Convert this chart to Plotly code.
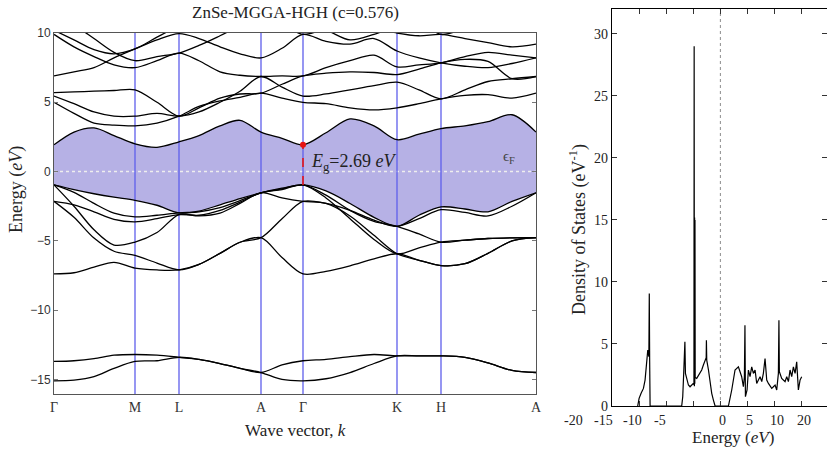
import plotly.graph_objects as go

# ---------------- data: band structure ----------------
SYM_K = [0, 81, 125, 207, 249, 343, 387, 482]
SYM_LABELS = ["Γ", "M", "L", "A", "Γ", "K", "H", "A"]
K_GRID = [0, 20, 40, 60, 81, 103, 125, 145, 166, 186, 207, 228, 249,
          272, 296, 320, 343, 365, 387, 411, 434, 458, 482]

SEMI_1 = [-13.7, -13.65, -13.5, -13.25, -13.2, -13.25, -13.4, -13.55, -13.85, -14.2, -14.5, -13.95, -13.65,
          -13.55, -13.35, -13.2, -13.3, -13.3, -13.3, -13.4, -13.8, -14.35, -14.5]
SEMI_2 = [-15.1, -15.05, -14.8, -14.2, -13.7, -13.65, -13.4, -13.55, -13.85, -14.2, -14.5, -15.0, -15.1,
          -14.95, -14.5, -13.85, -13.3, -13.3, -13.3, -13.4, -13.8, -14.35, -14.5]

VB1 = [-0.96, -1.3, -1.6, -1.85, -2.07, -2.43, -2.98, -2.85, -2.4, -1.95, -1.53, -1.2, -0.96,
       -1.4, -2.3, -3.3, -3.95, -3.15, -2.55, -2.7, -2.9, -2.15, -1.53]
VB2 = [-0.96, -1.5, -2.3, -3.0, -3.27, -3.15, -2.98, -2.9, -2.6, -2.1, -1.53, -1.25, -0.96,
       -1.7, -2.8, -3.6, -3.95, -4.5, -5.09, -4.95, -4.83, -4.78, -4.77]
VB3 = [-2.15, -2.4, -2.9, -3.45, -3.63, -3.4, -3.1, -3.15, -2.8, -2.2, -1.53, -1.3, -0.96,
       -1.9, -3.4, -4.9, -5.93, -5.5, -5.09, -4.95, -4.83, -4.78, -4.77]
VB4 = [-0.96, -2.5, -4.2, -5.3, -5.09, -4.4, -3.1, -3.2, -3.0, -2.3, -1.53, -1.9, -2.15,
       -2.3, -3.2, -4.6, -5.93, -6.4, -6.78, -6.65, -5.9, -5.0, -4.77]
VB5 = [-2.15, -3.3, -4.8, -5.75, -6.05, -6.6, -7.09, -6.7, -5.9, -5.1, -4.77, -3.4, -2.15,
       -2.3, -2.8, -3.5, -3.95, -3.4, -2.75, -2.95, -3.2, -2.5, -1.53]
VB6 = [-7.38, -7.3, -6.9, -6.55, -6.97, -7.1, -7.09, -6.7, -5.9, -5.1, -4.77, -6.2, -7.38,
       -7.2, -6.8, -6.3, -5.93, -6.4, -6.78, -6.65, -5.9, -5.0, -4.77]

CB1 = [1.93, 2.85, 3.15, 2.6, 2.0, 1.75, 2.15, 2.6, 3.3, 3.7, 2.85, 2.4, 1.93,
       2.8, 3.8, 3.3, 2.3, 2.7, 3.1, 3.3, 3.6, 4.1, 2.85]
CB2 = [5.0, 4.2, 3.5, 3.35, 3.3, 3.5, 4.0, 4.7, 5.1, 5.35, 5.66, 5.3, 5.0,
       4.9, 4.6, 4.45, 4.6, 4.9, 5.25, 5.5, 5.55, 5.3, 5.66]
CB3 = [5.45, 4.9, 4.3, 4.0, 4.0, 4.2, 4.0, 4.3, 5.0, 5.8, 6.86, 6.1, 5.45,
       5.6, 5.9, 6.2, 6.45, 5.9, 5.25, 5.9, 6.5, 6.7, 6.86]
CB4 = [5.7, 5.75, 5.8, 5.85, 5.9, 5.0, 4.0, 4.6, 5.3, 5.6, 5.66, 6.3, 6.9,
       7.1, 7.2, 7.15, 7.0, 7.4, 7.85, 8.1, 7.95, 6.7, 6.85]
CB5 = [6.9, 7.2, 7.5, 8.2, 8.85, 9.5, 9.95, 9.6, 9.0, 8.5, 8.2, 8.9, 9.9,
       9.4, 9.2, 9.6, 8.7, 8.2, 7.85, 7.6, 7.5, 7.8, 8.2]
CB6 = [9.9, 9.0, 8.3, 7.7, 7.5, 8.0, 8.55, 8.0, 7.2, 6.95, 6.86, 6.9, 6.9,
       7.5, 8.0, 8.4, 7.55, 7.7, 7.85, 8.3, 8.6, 8.4, 8.2]
CB7 = [11.5, 10.6, 9.6, 8.6, 8.0, 8.3, 8.55, 9.1, 9.8, 10.5, 11.0, 10.6, 9.9,
       10.3, 10.6, 10.4, 10.0, 9.8, 9.9, 9.6, 9.3, 9.0, 9.2]
CB8 = [10.2, 9.5, 8.8, 8.5, 8.85, 9.7, 10.5, 11.0, 11.0, 11.0, 11.5, 11.0, 10.5,
       10.2, 9.5, 9.9, 10.5, 10.8, 9.9, 10.3, 10.5, 10.6, 10.8]

BANDS = [SEMI_1, SEMI_2, VB1, VB2, VB3, VB4, VB5, VB6,
         CB1, CB2, CB3, CB4, CB5, CB6, CB7, CB8]

GAP_TEXT = "<i>E</i><sub>g</sub>=2.69 <i>eV</i>"
FERMI_TEXT = "ϵ<sub>F</sub>"

# ---------------- data: density of states ----------------
DOS_E = [-15.26, -15.0, -14.63, -14.2, -13.9, -13.6, -13.4, -13.2, -13.12, -13.05, -12.97,
         -7.14, -6.95, -6.77, -6.64, -6.55, -6.45, -6.21, -5.9, -5.6, -5.3, -4.98, -4.88,
         -4.84, -4.80, -4.76, -4.72, -4.69, -4.65, -4.37, -4.06, -3.75, -3.45, -3.14, -2.83,
         -2.62, -2.58, -2.52, -2.2, -1.9, -1.6, -1.29, -0.98,
         1.48, 2.09, 2.7, 3.32, 3.93, 4.24, 4.43, 4.53, 4.62, 4.92, 5.17, 5.47, 5.78, 6.09,
         6.4, 6.7, 7.01, 7.32, 7.63, 7.93, 8.24, 8.37, 8.55, 8.86, 9.17, 9.47, 9.78, 10.09,
         10.39, 10.7, 10.8, 10.88, 11.31, 11.62, 11.93, 12.24, 12.55, 12.85, 13.16, 13.47,
         13.78, 14.08, 14.39, 14.7, 15.0]
DOS_V = [0, 0.62, 1.02, 1.42, 2.09, 3.43, 4.5, 3.97, 9.06, 3.6, 0,
         0, 0.75, 2.63, 3.56, 5.17, 2.63, 2.09, 1.69, 1.55, 1.69, 1.82, 1.7,
         29.0, 1.6, 15.2, 1.8, 15.0, 2.3, 2.23, 2.49, 2.63, 2.9, 3.3, 3.7,
         3.9, 5.3, 3.7, 2.9, 1.82, 1.02, 0.48, 0,
         0, 1.29, 2.9, 3.16, 2.36, 1.55, 2.36, 6.5, 0.75, 1.29, 2.9, 2.36, 3.16, 2.63,
         2.9, 1.82, 2.09, 2.36, 1.96, 2.63, 3.83, 3.16, 2.09, 1.82, 1.55, 1.42, 1.55, 1.69,
         1.29, 2.63, 6.92, 2.76, 2.23, 2.09, 1.96, 2.36, 1.96, 2.9, 2.36, 3.16,
         2.63, 3.56, 1.29, 2.09, 2.36]
DOS_TICK_TEXT = ["-20", "-15", "-10", "-5", "0", "5", "10", "20"]
DOS_Y_TICKS = [0, 5, 10, 15, 20, 25, 30]

TITLE = "ZnSe-MGGA-HGH (c=0.576)"

# ---------------- layout constants ----------------
W, H = 827, 453
SERIF = "Liberation Serif, Times New Roman, serif"
SANS = "Liberation Sans, Arial, sans-serif"
E_MIN, E_MAX = -16.05, 10.0
K_MAX = SYM_K[-1]
DOS_LABEL_PX = [573, 603, 632, 660, 722, 749, 777, 804]


def px(x):
    return x / W


def py(y):
    return 1 - y / H


fig = go.Figure()

# shaded gap region between top valence band and bottom conduction band
fig.add_trace(go.Scatter(x=K_GRID, y=VB1, mode="lines", line=dict(width=0, shape="spline"),
                         hoverinfo="skip", showlegend=False, xaxis="x", yaxis="y"))
fig.add_trace(go.Scatter(x=K_GRID, y=CB1, mode="lines", line=dict(width=0, shape="spline"),
                         fill="tonexty", fillcolor="rgb(182,177,229)",
                         hoverinfo="skip", showlegend=False, xaxis="x", yaxis="y"))

# Fermi level
fig.add_trace(go.Scatter(x=[0, K_MAX], y=[0, 0], mode="lines",
                         line=dict(color="rgb(238,238,238)", width=1.5, dash="dot"),
                         showlegend=False, xaxis="x", yaxis="y"))

# high-symmetry vertical lines
vx, vy = [], []
for k in SYM_K[1:-1]:
    vx += [k, k, None]
    vy += [E_MIN, E_MAX, None]
fig.add_trace(go.Scatter(x=vx, y=vy, mode="lines", line=dict(color="rgb(95,95,235)", width=1.3),
                         showlegend=False, xaxis="x", yaxis="y"))

# bands
for b in BANDS:
    fig.add_trace(go.Scatter(x=K_GRID, y=b, mode="lines",
                             line=dict(color="black", width=1.3, shape="spline", smoothing=0.9),
                             showlegend=False, xaxis="x", yaxis="y"))

# gap marker at Gamma
g = K_GRID.index(SYM_K[4])
fig.add_trace(go.Scatter(x=[SYM_K[4], SYM_K[4]], y=[VB1[g], CB1[g]], mode="lines",
                         line=dict(color="rgb(230,20,20)", width=1.6, dash="dash"),
                         showlegend=False, xaxis="x", yaxis="y"))
fig.add_trace(go.Scatter(x=[SYM_K[4]], y=[CB1[g]], mode="markers",
                         marker=dict(color="rgb(230,20,20)", size=6),
                         showlegend=False, xaxis="x", yaxis="y"))

# DOS
fig.add_trace(go.Scatter(x=[0, 0], y=[0, 32], mode="lines",
                         line=dict(color="rgb(140,140,140)", width=1, dash="dot"),
                         showlegend=False, xaxis="x2", yaxis="y2"))
fig.add_trace(go.Scatter(x=DOS_E, y=DOS_V, mode="lines", line=dict(color="black", width=1.2),
                         showlegend=False, xaxis="x2", yaxis="y2"))

C = dict(xanchor="center", yanchor="middle", showarrow=False)
annotations = [
    dict(text=TITLE, x=px(295), y=py(12), xref="paper", yref="paper",
         font=dict(family=SERIF, size=17, color="#222"), **C),
    dict(text="Energy (<i>eV</i>)", x=px(17), y=py(190), xref="paper", yref="paper",
         textangle=-90, font=dict(family=SERIF, size=18, color="#222"), **C),
    dict(text="Wave vector, <i>k</i>", x=px(295), y=py(430), xref="paper", yref="paper",
         font=dict(family=SERIF, size=17, color="#222"), **C),
    dict(text=GAP_TEXT, x=SYM_K[4] + 6, y=0.62, xref="x", yref="y", xanchor="left",
         yanchor="middle", showarrow=False, font=dict(family=SERIF, size=18, color="#222")),
    dict(text=FERMI_TEXT, x=455, y=1.05, xref="x", yref="y",
         font=dict(family=SERIF, size=15, color="#444"), **C),
    dict(text="Density of States (eV<sup>-1</sup>)", x=px(578), y=py(230), xref="paper",
         yref="paper", textangle=-90, font=dict(family=SERIF, size=18, color="#222"), **C),
    dict(text="Energy (<i>eV</i>)", x=px(733), y=py(437), xref="paper", yref="paper",
         font=dict(family=SERIF, size=17, color="#222"), **C),
]
for t, xp in zip(DOS_TICK_TEXT, DOS_LABEL_PX):
    annotations.append(dict(text=t, x=px(xp), y=py(420), xref="paper", yref="paper",
                            font=dict(family=SERIF, size=14, color="#222"), **C))

fig.update_layout(
    width=W, height=H, margin=dict(l=0, r=0, t=0, b=0, autoexpand=False),
    paper_bgcolor="white", plot_bgcolor="white",
    xaxis=dict(domain=[px(54), px(536)], range=[0, K_MAX], tickvals=SYM_K, ticktext=SYM_LABELS,
               ticks="", showline=True, mirror=True, linecolor="#555", linewidth=1,
               showgrid=False, zeroline=False, anchor="y", automargin=False,
               tickfont=dict(family=SERIF, size=14, color="#333")),
    yaxis=dict(domain=[py(394), py(33)], range=[E_MIN, E_MAX], tickvals=[-15, -10, -5, 0, 5, 10],
               ticks="inside", ticklen=4, tickcolor="#777", showline=True, mirror="ticks",
               linecolor="#555", linewidth=1, showgrid=False, zeroline=False, anchor="x",
               automargin=False, tickfont=dict(family=SANS, size=12, color="#333")),
    xaxis2=dict(domain=[px(612), 1.0], range=[-20, 19.67], tickvals=[-20, -15, -10, -5, 0, 5, 10, 15],
                ticks="inside", ticklen=5, tickcolor="#333", showticklabels=False,
                showline=True, mirror="ticks", linecolor="black", linewidth=1.3,
                showgrid=False, zeroline=False, anchor="y2", automargin=False),
    yaxis2=dict(domain=[py(406), py(9)], range=[0, 32], tickvals=DOS_Y_TICKS,
                ticks="inside", ticklen=5, tickcolor="#333", showline=True, mirror="ticks",
                linecolor="black", linewidth=1.3, showgrid=False, zeroline=False, anchor="x2",
                automargin=False, tickfont=dict(family=SERIF, size=14, color="#222")),
    annotations=annotations,
)

fig.write_html("out.html", config={"displayModeBar": False},
               post_script="document.body.style.margin='0';")
